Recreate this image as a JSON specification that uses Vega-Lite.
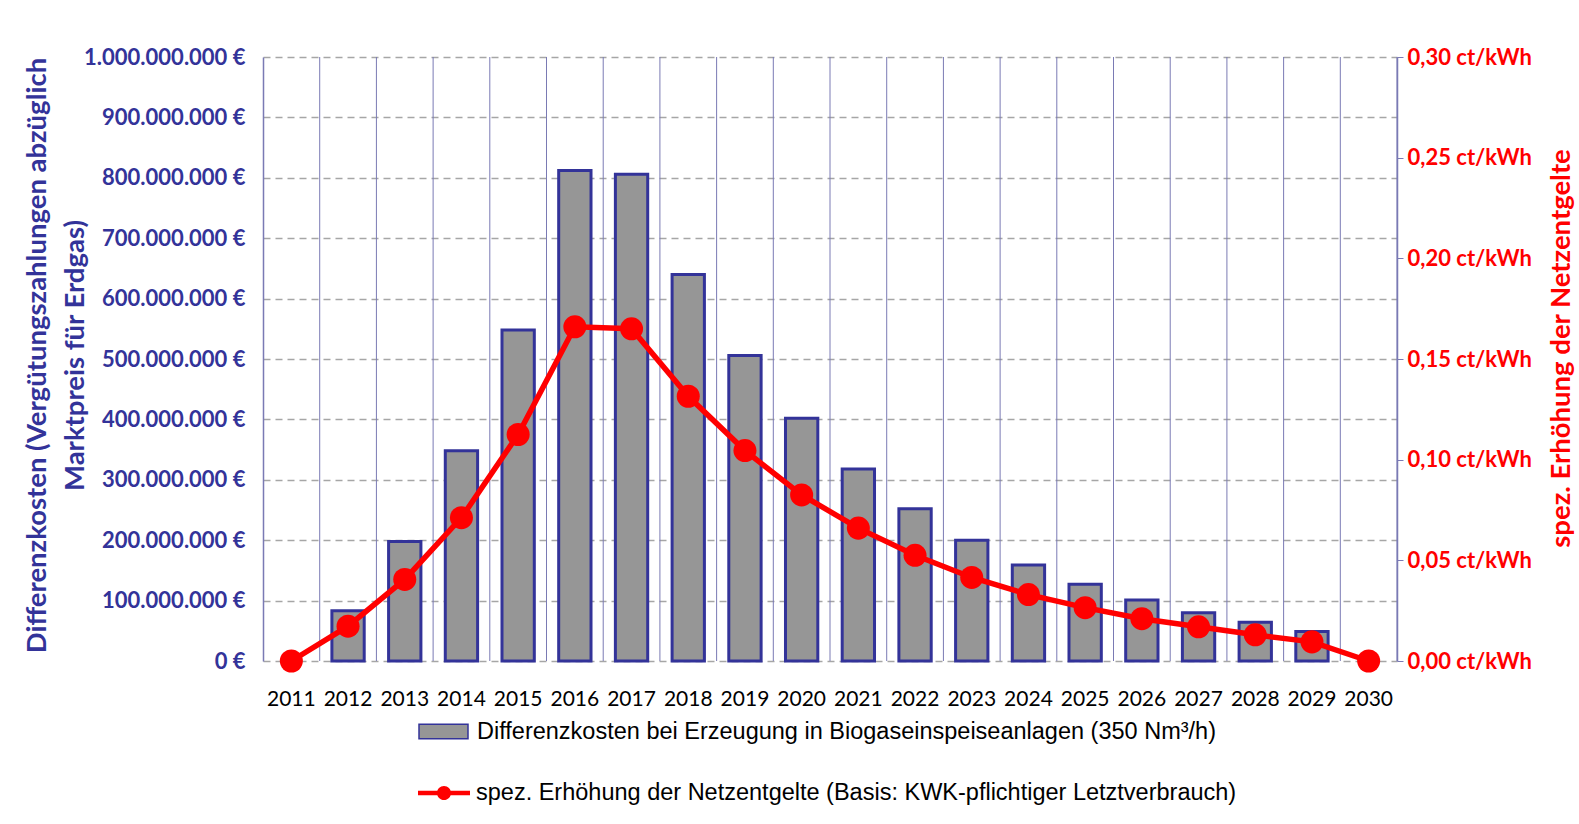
{
  "$schema": "https://vega.github.io/schema/vega-lite/v6.json",
  "width": 1134,
  "height": 604,
  "autosize": {"type": "none"},
  "padding": {"left": 263, "top": 57, "right": 182, "bottom": 163},
  "background": "white",
  "config": {
    "locale": {"number": {"decimal": ",", "thousands": ".", "grouping": [3], "currency": ["", " €"]}},
    "view": {"stroke": null},
    "font": "Lato"
  },
  "data": {
    "values": [
      {"Jahr": "2011", "kosten": null, "netz": 0},
      {"Jahr": "2012", "kosten": 83000000, "netz": 0.0173},
      {"Jahr": "2013", "kosten": 198000000, "netz": 0.0405},
      {"Jahr": "2014", "kosten": 348000000, "netz": 0.0712},
      {"Jahr": "2015", "kosten": 548000000, "netz": 0.1125},
      {"Jahr": "2016", "kosten": 812000000, "netz": 0.166},
      {"Jahr": "2017", "kosten": 806000000, "netz": 0.165},
      {"Jahr": "2018", "kosten": 640000000, "netz": 0.1315},
      {"Jahr": "2019", "kosten": 506000000, "netz": 0.1045},
      {"Jahr": "2020", "kosten": 402000000, "netz": 0.0825},
      {"Jahr": "2021", "kosten": 318000000, "netz": 0.066},
      {"Jahr": "2022", "kosten": 252000000, "netz": 0.0525},
      {"Jahr": "2023", "kosten": 200000000, "netz": 0.0415},
      {"Jahr": "2024", "kosten": 159000000, "netz": 0.033},
      {"Jahr": "2025", "kosten": 127000000, "netz": 0.0265},
      {"Jahr": "2026", "kosten": 101000000, "netz": 0.021},
      {"Jahr": "2027", "kosten": 80000000, "netz": 0.017},
      {"Jahr": "2028", "kosten": 64000000, "netz": 0.013},
      {"Jahr": "2029", "kosten": 49000000, "netz": 0.0095},
      {"Jahr": "2030", "kosten": null, "netz": 0}
    ]
  },
  "encoding": {
    "x": {
      "field": "Jahr",
      "type": "ordinal",
      "scale": {"paddingInner": 0.43, "paddingOuter": 0.215},
      "axis": {
        "title": null,
        "labelAngle": 0,
        "labelFont": "Lato",
        "labelFontSize": 21,
        "labelColor": "black",
        "labelPadding": 27,
        "ticks": false,
        "domain": false,
        "grid": false
      }
    }
  },
  "layer": [
    {
      "mark": {"type": "rule", "xOffset": 12.2, "color": "#7a7ab4", "strokeWidth": 1},
      "encoding": {
        "x": {"field": "Jahr", "type": "ordinal", "bandPosition": 1}
      }
    },
    {
      "mark": {"type": "bar", "stroke": "#333399", "strokeWidth": 3},
      "encoding": {
        "y": {
          "field": "kosten",
          "type": "quantitative",
          "scale": {"domain": [0, 1000000000], "nice": false},
          "axis": {
            "title": ["Differenzkosten (Vergütungszahlungen abzüglich", "Marktpreis für Erdgas)"],
            "titleFont": "Lato",
            "titleFontSize": 27.5,
            "titleFontWeight": "bold",
            "titleColor": "#333399",
            "titleAngle": -90,
            "titleX": -226,
            "titleY": 298,
            "titleAlign": "center",
            "titleBaseline": "middle",
            "titleLineHeight": 38,
            "values": [0, 100000000, 200000000, 300000000, 400000000, 500000000, 600000000, 700000000, 800000000, 900000000, 1000000000],
            "format": ",.0f",
            "labelExpr": "datum.label + ' €'",
            "labelFont": "Lato",
            "labelFontSize": 22,
            "labelFontWeight": "bold",
            "labelColor": "#333399",
            "labelPadding": 18,
            "ticks": false,
            "domainColor": "#7a7ab4",
            "domainWidth": 1.5,
            "grid": true,
            "gridDash": [7, 5],
            "gridColor": "#a6a6a6",
            "gridWidth": 1.5
          }
        },
        "fill": {
          "datum": "Differenzkosten bei Erzeugung in Biogaseinspeiseanlagen (350 Nm³/h)",
          "scale": {"range": ["#969696"]},
          "legend": {
            "title": null,
            "orient": "none",
            "legendX": 155,
            "legendY": 649,
            "padding": 0,
            "symbolType": "M-1,-0.3L1,-0.3L1,0.3L-1,0.3Z",
            "symbolSize": 2401,
            "labelFont": "Liberation Sans",
            "labelFontSize": 23.5,
            "labelColor": "black",
            "labelOffset": 8,
            "labelLimit": 1000,
            "encode": {"symbols": {"update": {"stroke": {"value": "#333399"}, "strokeWidth": {"value": 3}, "fill": {"value": "#969696"}, "opacity": {"value": 1}}}}
          }
        }
      }
    },
    {
      "encoding": {
        "y": {
          "field": "netz",
          "type": "quantitative",
          "scale": {"domain": [0, 0.3], "nice": false},
          "axis": {
            "orient": "right",
            "title": "spez. Erhöhung der Netzentgelte",
            "titleFont": "Lato",
            "titleFontSize": 27.5,
            "titleFontWeight": "bold",
            "titleColor": "#ff0000",
            "titleAngle": -90,
            "titleX": 164,
            "titleY": 291,
            "titleAlign": "center",
            "titleBaseline": "middle",
            "values": [0, 0.05, 0.1, 0.15, 0.2, 0.25, 0.3],
            "format": ".2f",
            "labelExpr": "datum.label + ' ct/kWh'",
            "labelFont": "Lato",
            "labelFontSize": 22,
            "labelFontWeight": "bold",
            "labelColor": "#ff0000",
            "labelPadding": 4,
            "tickColor": "#7a7ab4",
            "tickSize": 6,
            "domainColor": "#7a7ab4",
            "domainWidth": 1.5,
            "grid": false
          }
        }
      },
      "layer": [
        {
          "mark": {"type": "line", "strokeWidth": 5.5},
          "encoding": {
            "stroke": {
              "datum": "spez. Erhöhung der Netzentgelte (Basis: KWK-pflichtiger Letztverbrauch)",
              "scale": {"range": ["#ff0000"]},
              "legend": {
                "title": null,
                "orient": "none",
                "legendX": 155,
                "legendY": 710,
                "padding": 0,
                "symbolType": "M-1,-0.09L1,-0.09L1,0.09L-1,0.09Z M0.27,0A0.27,0.27 0 1,1 -0.27,0A0.27,0.27 0 1,1 0.27,0Z",
                "symbolSize": 2704,
                "labelFont": "Liberation Sans",
                "labelFontSize": 23.5,
                "labelColor": "black",
                "labelOffset": 6,
                "labelLimit": 1000,
                "encode": {"symbols": {"update": {"fill": {"value": "#ff0000"}, "strokeWidth": {"value": 0}, "opacity": {"value": 1}}}}
              }
            }
          }
        },
        {
          "mark": {"type": "circle", "size": 530, "color": "#ff0000", "opacity": 1}
        }
      ]
    }
  ],
  "resolve": {"scale": {"y": "independent"}}
}
